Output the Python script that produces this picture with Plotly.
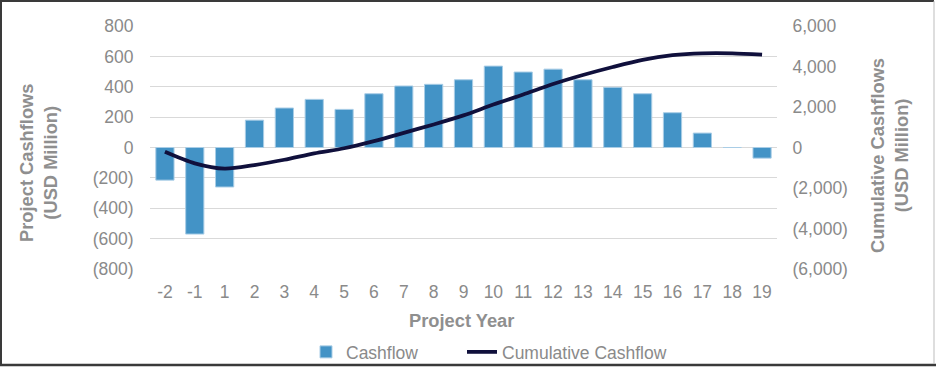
import plotly.graph_objects as go

years = ["-2", "-1", "1", "2", "3", "4", "5", "6", "7", "8", "9", "10",
         "11", "12", "13", "14", "15", "16", "17", "18", "19"]
cashflow = [-215, -570, -260, 180, 260, 317, 251, 354, 405, 416, 446, 536,
            497, 516, 446, 396, 354, 229, 95, 0, -70]
cumulative = [-215, -785, -1045, -865, -605, -288, -37, 317, 722, 1138, 1584,
              2120, 2617, 3133, 3579, 3975, 4329, 4558, 4653, 4653, 4583]

left_ticks = [800, 600, 400, 200, 0, -200, -400, -600, -800]
left_labels = ["800", "600", "400", "200", "0", "(200)", "(400)", "(600)", "(800)"]
right_ticks = [6000, 4000, 2000, 0, -2000, -4000, -6000]
right_labels = ["6,000", "4,000", "2,000", "0", "(2,000)", "(4,000)", "(6,000)"]

W, H = 936, 368
ML, MR, MT, MB = 150, 159, 26, 99
PW, PH = W - ML - MR, H - MT - MB

def px(x):
    return (x - ML) / PW

def py(y):
    return (H - MB - y) / PH

FONT = "Liberation Sans, Arial, sans-serif"
TICK = "#8a8a8a"
TITLE = "#8f8f8f"
FS = 17.5
TFS = 18.3

fig = go.Figure()
fig.add_trace(go.Bar(
    x=years, y=cashflow, name="Cashflow", legend="legend",
    marker=dict(color="#4393c6", line=dict(color="#a9cde6", width=1)),
))
fig.add_trace(go.Scatter(
    x=years, y=cumulative, name="Cumulative Cashflow", yaxis="y2", legend="legend2",
    mode="lines", line=dict(color="#10103c", width=3.8, shape="spline", smoothing=0.8),
))

legend_common = dict(orientation="h", xanchor="left", yanchor="middle",
                     font=dict(size=FS, color=TICK), bgcolor="rgba(0,0,0,0)")

BORDER = "#3a3a3a"
fig.update_layout(
    width=W, height=H,
    margin=dict(l=ML, r=MR, t=MT, b=MB, autoexpand=False),
    paper_bgcolor="white", plot_bgcolor="white",
    font=dict(family=FONT, size=FS, color=TICK),
    bargap=0.39,
    showlegend=True,
    legend=dict(x=px(306), y=py(352), **legend_common),
    legend2=dict(x=px(462), y=py(352), **legend_common),
    xaxis=dict(type="category", showgrid=False, zeroline=False, showline=False,
               automargin=False,
               ticks="outside", ticklen=7, tickcolor="rgba(0,0,0,0)",
               tickfont=dict(size=FS, color=TICK)),
    yaxis=dict(range=[-800, 800], tickvals=left_ticks, ticktext=left_labels,
               automargin=False,
               showgrid=True, gridcolor="#d9d9d9", gridwidth=1, zeroline=False,
               showline=False, ticks="outside", ticklen=12, tickcolor="rgba(0,0,0,0)",
               tickfont=dict(size=FS, color=TICK)),
    yaxis2=dict(range=[-6000, 6000], tickvals=right_ticks, ticktext=right_labels,
                automargin=False,
                overlaying="y", side="right", showgrid=False, zeroline=False,
                showline=False, ticks="outside", ticklen=11, tickcolor="rgba(0,0,0,0)",
                tickfont=dict(size=FS, color=TICK)),
    annotations=[
        dict(text="<b>Project Cashflows<br>(USD Million)</b>", xref="paper", yref="paper",
             x=px(38), y=py(163), xanchor="center", yanchor="middle", textangle=-90,
             showarrow=False, font=dict(size=TFS, color=TITLE), align="center"),
        dict(text="<b>Cumulative Cashflows<br>(USD Million)</b>", xref="paper", yref="paper",
             x=px(889), y=py(156), xanchor="center", yanchor="middle", textangle=-90,
             showarrow=False, font=dict(size=TFS, color=TITLE), align="center"),
        dict(text="<b>Project Year</b>", xref="paper", yref="paper",
             x=px(461), y=py(320), xanchor="center", yanchor="middle",
             showarrow=False, font=dict(size=TFS, color=TITLE)),
    ],
    shapes=[
        dict(type="line", xref="paper", yref="paper", x0=px(1), x1=px(1),
             y0=py(366), y1=py(0), line=dict(color=BORDER, width=2), layer="above"),
        dict(type="line", xref="paper", yref="paper", x0=px(0), x1=px(934),
             y0=py(1), y1=py(1), line=dict(color=BORDER, width=2), layer="above"),
        dict(type="line", xref="paper", yref="paper", x0=px(0), x1=px(936),
             y0=py(365), y1=py(365), line=dict(color=BORDER, width=2.5), layer="above"),
        dict(type="line", xref="paper", yref="paper", x0=px(934), x1=px(934),
             y0=py(364), y1=py(1), line=dict(color="#bdbdbd", width=1), layer="above"),
    ],
)

fig.write_html(
    "out.html",
    config={"displayModeBar": False},
    post_script="document.body.style.margin='0';document.body.style.overflow='hidden';",
)
